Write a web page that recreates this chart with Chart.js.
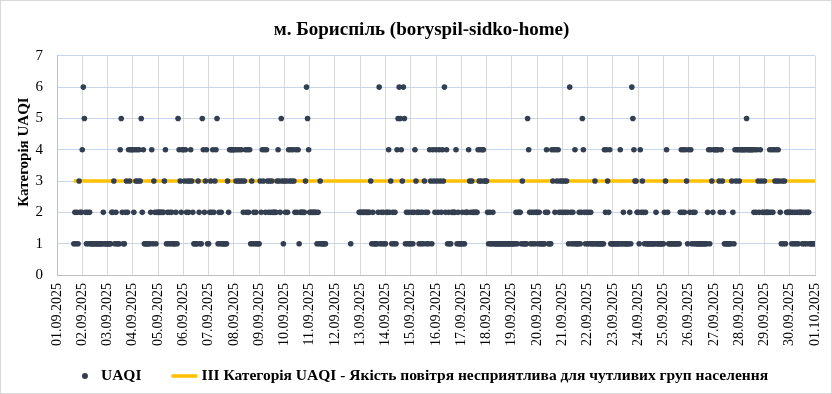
<!DOCTYPE html>
<html>
<head>
<meta charset="utf-8">
<script src="https://cdn.jsdelivr.net/npm/chart.js@4.4.1/dist/chart.umd.min.js"></script>
<style>
  html, body { margin: 0; padding: 0; background: #fff; }
  canvas { display: block; }
</style>
</head>
<body>
<canvas id="chart" width="832" height="394"></canvas>
<script>
const chartTitle = 'м. Бориспіль (boryspil-sidko-home)';
const yAxisTitle = 'Категорія UAQI';
const seriesName = 'UAQI';
const thresholdName = 'III Категорія UAQI - Якість повітря несприятлива для чутливих груп населення';
const thresholdValue = 3;

const dateLabels = [
  '01.09.2025', '02.09.2025', '03.09.2025', '04.09.2025', '05.09.2025', '06.09.2025',
  '07.09.2025', '08.09.2025', '09.09.2025', '10.09.2025', '11.09.2025', '12.09.2025',
  '13.09.2025', '14.09.2025', '15.09.2025', '16.09.2025', '17.09.2025', '18.09.2025',
  '19.09.2025', '20.09.2025', '21.09.2025', '22.09.2025', '23.09.2025', '24.09.2025',
  '25.09.2025', '26.09.2025', '27.09.2025', '28.09.2025', '29.09.2025', '30.09.2025',
  '01.10.2025',
];

// hourly UAQI category, one string per day (00..23 h), '-' = no data
const hourlyByDay = [
  '----------------12121322',
  '465212121111111111112111',
  '111122312111452112324344',
  '424343435241111112413212',
  '222222341212121112154324',
  '434232343211113211542341',
  '123242345121211111324444',
  '443434343234242413121211',
  '132434243232322223432531',
  '323243434324241222223654',
  '2222222121311111--------',
  '---------------1-------2',
  '222222222231211112612121',
  '122423121214565436512121',
  '121243221212132121431432',
  '432432436241211222241211',
  '121122243232222243434433',
  '321211211111111111111111',
  '111121222131111542121212',
  '212111112421114342434232',
  '323232162121411121254212',
  '121211131111111142432411',
  '111111141121111121654332',
  '214232121111111112111111',
  '123421111111111124242431',
  '424121211111111111241432',
  '444443243211111113214344',
  '344444454444442424324322',
  '322224242434343213131222',
  '221212121222121212211111',
  '1',
];

const uaqiPoints = [];
hourlyByDay.forEach((day, d) => {
  day.split('').forEach((c, h) => {
    if (c !== '-') uaqiPoints.push({ x: d + h / 24, y: Number(c) });
  });
});

const thresholdPoints = [
  { x: uaqiPoints[0].x, y: thresholdValue },
  { x: dateLabels.length - 1, y: thresholdValue },
];

const dotColor = '#333f50';
const lineColor = '#ffc000';
const fontFamily = "'Liberation Serif', 'Times New Roman', serif";

Chart.defaults.font.family = fontFamily;
Chart.defaults.color = '#000';

// border, rotated y title and legend drawn like the Excel original
const excelDecor = {
  id: 'excelDecor',
  afterDraw(chart) {
    const ctx = chart.ctx;
    ctx.save();

    ctx.strokeStyle = '#d9d9d9';
    ctx.lineWidth = 1;
    ctx.strokeRect(0.5, 0.5, chart.width - 1, chart.height - 1);

    ctx.fillStyle = '#000';
    ctx.font = 'bold 15px ' + fontFamily;
    ctx.textAlign = 'center';
    ctx.textBaseline = 'middle';
    ctx.save();
    ctx.translate(24, 152);
    ctx.rotate(-Math.PI / 2);
    ctx.fillText(yAxisTitle, 0, 0);
    ctx.restore();

    ctx.font = 'bold 15.5px ' + fontFamily;
    const y = 376;
    const w1 = ctx.measureText(seriesName).width;
    const w2 = ctx.measureText(thresholdName).width;
    const total = 6 + 13 + w1 + 30 + 26 + 4 + w2;
    let x = 425 - total / 2;

    ctx.fillStyle = dotColor;
    ctx.beginPath();
    ctx.arc(x + 3, y, 3, 0, Math.PI * 2);
    ctx.fill();
    x += 6 + 13;

    ctx.fillStyle = '#000';
    ctx.textAlign = 'left';
    ctx.fillText(seriesName, x, y);
    x += w1 + 30;

    ctx.strokeStyle = lineColor;
    ctx.lineWidth = 3.5;
    ctx.beginPath();
    ctx.moveTo(x, y);
    ctx.lineTo(x + 26, y);
    ctx.stroke();
    x += 26 + 4;

    ctx.fillText(thresholdName, x, y);
    ctx.restore();
  },
};

new Chart(document.getElementById('chart'), {
  type: 'scatter',
  data: {
    datasets: [
      {
        label: seriesName,
        data: uaqiPoints,
        backgroundColor: dotColor,
        borderColor: dotColor,
        borderWidth: 0,
        pointRadius: 2.8,
        pointHoverRadius: 2.8,
        order: 0,
      },
      {
        type: 'line',
        label: thresholdName,
        data: thresholdPoints,
        borderColor: lineColor,
        borderWidth: 3.5,
        pointRadius: 0,
        fill: false,
        order: 1,
      },
    ],
  },
  options: {
    responsive: false,
    animation: false,
    layout: {
      padding: { top: 0, left: 28, right: 17, bottom: 36 },
    },
    plugins: {
      legend: { display: false },
      tooltip: { enabled: false },
      title: {
        display: true,
        text: chartTitle,
        color: '#000',
        font: { size: 19, weight: 'bold' },
        padding: { top: 19, bottom: 14 },
      },
    },
    scales: {
      x: {
        type: 'linear',
        min: 0,
        max: dateLabels.length - 1,
        afterFit: (scale) => {
          scale.height = 83;
          scale.paddingLeft = 0;
          scale.paddingRight = 0;
        },
        grid: { color: '#d9d9d9', drawTicks: false },
        border: { color: '#bfbfbf' },
        ticks: {
          stepSize: 1,
          autoSkip: false,
          minRotation: 90,
          maxRotation: 90,
          padding: 8,
          color: '#000',
          font: { size: 14 },
          callback: (v) => dateLabels[v],
        },
      },
      y: {
        min: 0,
        max: 7,
        afterFit: (scale) => {
          scale.width = 29;
        },
        grid: {
          color: (c) => (c.tick.value === 0 ? 'rgba(0,0,0,0)' : '#c9d5ea'),
          drawTicks: false,
        },
        border: { color: '#bfbfbf' },
        ticks: {
          stepSize: 1,
          padding: 14,
          color: '#000',
          font: { size: 15 },
        },
      },
    },
  },
  plugins: [excelDecor],
});
</script>
</body>
</html>
